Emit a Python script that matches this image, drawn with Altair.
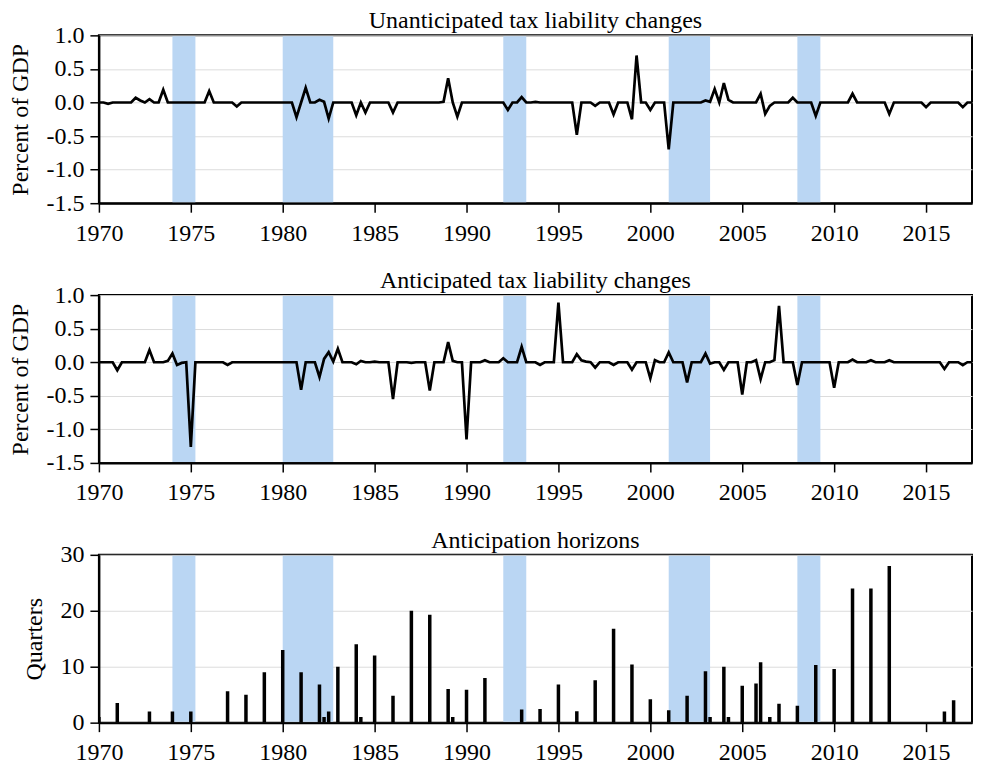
import altair as alt
import pandas as pd
import numpy as np

FONT = "Liberation Serif"
BLUE = "#bad6f3"
W, H = 874, 168
X_START, X_END = 1970.0, 2017.5

# Recession shading (start, end), in years
rec_start = [1974.0, 1980.0, 1992.0, 2001.0, 2008.0]
rec_end = [1975.25, 1982.75, 1993.25, 2003.25, 2009.25]

# Unanticipated tax liability changes (quarters with a non-zero value), % of GDP
unant_dates = [1970.5, 1972.0, 1972.25, 1972.75, 1973.5, 1976.0, 1977.5, 1980.75, 1981.25,
               1982.0, 1982.25, 1982.5, 1984.0, 1984.5, 1986.0, 1988.75, 1989.0, 1989.5,
               1992.25, 1993.0, 1993.75, 1996.0, 1997.0, 1998.0, 1999.0, 1999.25, 2000.0,
               2001.0, 2003.0, 2003.25, 2003.5, 2004.0, 2004.25, 2006.0, 2006.25, 2006.5,
               2007.75, 2009.0, 2011.0, 2013.0, 2015.0, 2017.0]
unant_vals = [-0.02, 0.07, 0.03, 0.05, 0.19, 0.17, -0.06, -0.22, 0.22,
              0.04, 0.01, -0.24, -0.19, -0.15, -0.15, 0.01, 0.36, -0.21,
              -0.11, 0.08, 0.01, -0.48, -0.05, -0.18, -0.25, 0.70, -0.11,
              -0.70, 0.03, 0.01, 0.20, 0.29, 0.04, 0.13, -0.17, -0.05,
              0.07, -0.20, 0.13, -0.17, -0.07, -0.07]

# Anticipated tax liability changes (quarters with a non-zero value), % of GDP
ant_dates = [1971.0, 1972.75, 1973.75, 1974.0, 1974.25, 1974.5, 1975.0, 1977.0, 1981.0,
             1982.0, 1982.25, 1982.5, 1982.75, 1983.0, 1984.0, 1984.25, 1985.0, 1986.0,
             1987.0, 1988.0, 1989.0, 1989.25, 1990.0, 1991.0, 1992.0, 1993.0, 1994.0,
             1995.0, 1996.0, 1996.25, 1996.5, 1997.0, 1998.0, 1999.0, 2000.0, 2000.25,
             2001.0, 2002.0, 2003.0, 2003.25, 2004.0, 2005.0, 2005.75, 2006.0, 2006.75,
             2007.0, 2008.0, 2010.0, 2011.0, 2012.0, 2013.0, 2016.0, 2017.0]
ant_vals = [-0.12, 0.18, 0.02, 0.13, -0.04, -0.01, -1.26, -0.04, -0.41,
            -0.22, 0.05, 0.15, 0.01, 0.20, -0.03, 0.02, 0.01, -0.55,
            -0.01, -0.42, 0.30, 0.02, -1.15, 0.03, 0.06, 0.23, -0.04,
            0.89, 0.12, 0.03, 0.01, -0.08, -0.04, -0.11, -0.24, 0.03,
            0.145, -0.30, 0.13, -0.02, -0.115, -0.48, 0.03, -0.25, 0.03,
            0.84, -0.34, -0.38, 0.04, 0.03, 0.03, -0.10, -0.045]

# Anticipation horizons, quarters
hor_dates = [1970.0, 1971.0, 1972.75, 1974.0, 1975.0, 1977.0, 1978.0, 1979.0, 1980.0,
             1981.0, 1982.0, 1982.25, 1982.5, 1983.0, 1984.0, 1984.25, 1985.0, 1986.0,
             1987.0, 1988.0, 1989.0, 1989.25, 1990.0, 1991.0, 1993.0, 1994.0, 1995.0,
             1996.0, 1997.0, 1998.0, 1999.0, 2000.0, 2001.0, 2002.0, 2003.0, 2003.25,
             2004.0, 2004.25, 2005.0, 2005.75, 2006.0, 2006.5, 2007.0, 2008.0, 2009.0,
             2010.0, 2011.0, 2012.0, 2013.0, 2016.0, 2016.5]
hor_vals = [1, 3.5, 2, 2, 2, 5.6, 5, 9, 13,
            9, 6.8, 1, 2, 10, 14, 1, 12, 4.8,
            20, 19.3, 6, 1, 5.9, 8, 2.35, 2.45, 6.8,
            2.05, 7.6, 16.8, 10.4, 4.2, 2.2, 4.8, 9.2, 1,
            10, 1, 6.6, 7, 10.8, 1, 3.4, 3, 10.3,
            9.6, 24, 24, 28, 2, 4]

x_ticks = [1970, 1975, 1980, 1985, 1990, 1995, 2000, 2005, 2010, 2015]
pct_ticks = [-1.5, -1.0, -0.5, 0.0, 0.5, 1.0]
qtr_ticks = [0, 10, 20, 30]

# Build full quarterly series (zero where no change)
quarters = [X_START + 0.25 * i for i in range(int(round((X_END - X_START) / 0.25)) + 1)]


def quarterly(dates, vals):
    lookup = {round(d, 2): v for d, v in zip(dates, vals)}
    return pd.DataFrame({"t": quarters, "v": [lookup.get(round(q, 2), 0.0) for q in quarters]})


unant_df = quarterly(unant_dates, unant_vals)
ant_df = quarterly(ant_dates, ant_vals)
hor_df = pd.DataFrame({"t": hor_dates, "v": hor_vals})
rec_df = pd.DataFrame({"start": rec_start, "end": rec_end})

xscale = alt.Scale(domain=[X_START, X_END], nice=False, zero=False, padding=0)
x_axis = alt.Axis(values=x_ticks, format="d", grid=False, title=None, labelFlush=False,
                  tickSize=9, labelPadding=9)


def title_params(text):
    return alt.TitleParams(text=text, font=FONT, fontSize=24, fontWeight="normal",
                           color="black", anchor="middle", offset=-10)


def panel(title, df, ydomain, yticks, ytitle, kind, label_expr):
    yscale = alt.Scale(domain=ydomain, nice=False, zero=False, padding=0)
    y_axis = alt.Axis(values=yticks, title=ytitle, grid=True, tickSize=9, labelPadding=6,
                      titlePadding=13, labelExpr=label_expr)
    rec = alt.Chart(rec_df).mark_rect(color=BLUE, yOffset=1, y2Offset=-1).encode(
        x=alt.X("start:Q", scale=xscale, axis=x_axis),
        x2="end:Q",
        y=alt.YDatum(ydomain[1], scale=yscale, axis=y_axis, title=ytitle),
        y2=alt.Y2Datum(ydomain[0]),
    )
    if kind == "line":
        main = alt.Chart(df).mark_line(color="black", strokeWidth=2.7, clip=True).encode(
            x=alt.X("t:Q", scale=xscale, axis=x_axis),
            y=alt.Y("v:Q", scale=yscale, axis=y_axis, title=ytitle),
        )
    else:
        main = alt.Chart(df).mark_bar(color="black", size=3.5, clip=True).encode(
            x=alt.X("t:Q", scale=xscale, axis=x_axis),
            y=alt.Y("v:Q", scale=yscale, axis=y_axis, title=ytitle),
        )
    return alt.layer(rec, main).properties(width=W, height=H, title=title_params(title))


pct_expr = "datum.value < 0 ? '-' + format(-datum.value, '.1f') : format(datum.value, '.1f')"
qtr_expr = "format(datum.value, 'd')"

p1 = panel("Unanticipated tax liability changes", unant_df, [-1.5, 1.0], pct_ticks,
           "Percent of GDP", "line", pct_expr)
p2 = panel("Anticipated tax liability changes", ant_df, [-1.5, 1.0], pct_ticks,
           "Percent of GDP", "line", pct_expr)
p3 = panel("Anticipation horizons", hor_df, [0, 30], qtr_ticks, "Quarters", "bar", qtr_expr)

chart = alt.vconcat(p1, p2, p3, spacing=22).properties(
    padding={"left": 0, "top": 0, "right": 0, "bottom": 0}
).configure_view(
    stroke="black", strokeWidth=2
).configure_axis(
    domainColor="black", domainWidth=2, tickColor="black", tickWidth=1.5,
    labelFont=FONT, labelFontSize=24, labelColor="black",
    titleFont=FONT, titleFontSize=24, titleFontWeight="normal", titleColor="black",
    gridColor="#dcdcdc", gridWidth=1,
)

chart.save("out.html", embed_options={"renderer": "svg", "actions": False})
